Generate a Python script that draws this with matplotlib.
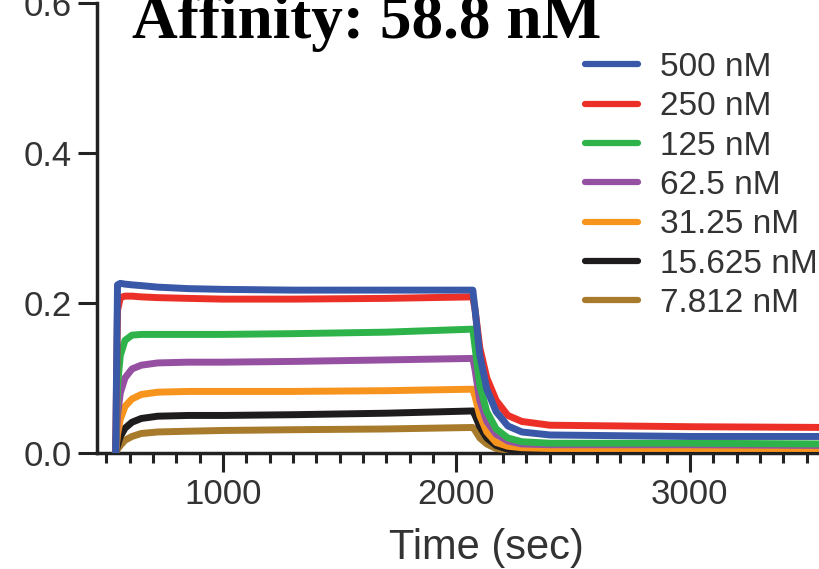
import numpy as np
import matplotlib
matplotlib.use("Agg")
import matplotlib.pyplot as plt
from matplotlib.ticker import MultipleLocator

t = [540, 548, 560, 580, 610, 650, 720, 850, 1000, 1300, 1700, 2070,
     2080, 2100, 2130, 2170, 2220, 2280, 2400, 3000, 3600]

labels = ["500 nM", "250 nM", "125 nM", "62.5 nM", "31.25 nM", "15.625 nM", "7.812 nM"]
colors = ["#3a58a8", "#ec3027", "#2eb34b", "#9550a1", "#f7941e", "#1f1c1d", "#a77a2c"]

r500 = [0, 0.224, 0.226, 0.225, 0.224, 0.223, 0.221, 0.219, 0.218, 0.217, 0.217, 0.217,
        0.19, 0.13, 0.085, 0.055, 0.036, 0.028, 0.024, 0.022, 0.022]
r250 = [0, 0.19, 0.207, 0.209, 0.209, 0.208, 0.207, 0.206, 0.205, 0.205, 0.206, 0.208,
        0.19, 0.14, 0.10, 0.07, 0.05, 0.042, 0.037, 0.035, 0.034]
r125 = [0, 0.09, 0.13, 0.150, 0.157, 0.158, 0.158, 0.158, 0.158, 0.159, 0.161, 0.165,
        0.14, 0.09, 0.055, 0.032, 0.020, 0.015, 0.013, 0.013, 0.012]
r62 = [0, 0.05, 0.08, 0.10, 0.112, 0.117, 0.120, 0.121, 0.121, 0.122, 0.124, 0.126,
       0.11, 0.07, 0.042, 0.025, 0.016, 0.012, 0.011, 0.011, 0.010]
r31 = [0, 0.025, 0.045, 0.062, 0.072, 0.078, 0.081, 0.082, 0.082, 0.082, 0.083, 0.085,
       0.075, 0.05, 0.028, 0.014, 0.009, 0.007, 0.006, 0.006, 0.006]
r15 = [0, 0.01, 0.022, 0.033, 0.041, 0.046, 0.049, 0.050, 0.050, 0.051, 0.053, 0.056,
       0.05, 0.035, 0.02, 0.01, 0.005, 0.003, 0.003, 0.003, 0.003]
r7 = [0, 0.005, 0.010, 0.017, 0.022, 0.026, 0.028, 0.029, 0.030, 0.031, 0.032, 0.034,
      0.03, 0.02, 0.012, 0.006, 0.004, 0.003, 0.003, 0.003, 0.003]
series = [r500, r250, r125, r62, r31, r15, r7]

plt.rcParams['font.family'] = ['Liberation Sans', 'DejaVu Sans']

fig = plt.figure(figsize=(8.19, 5.69), dpi=100)
ax = fig.add_axes([0.1184, 0.2039, 0.952, 0.7914])

for i, (y, c, lab) in enumerate(zip(series, colors, labels)):
    ax.plot(t, y, color=c, lw=5, label=lab, zorder=10 - i,
            solid_capstyle='round', solid_joinstyle='round')

ax.set_xlim(460, 3800)
ax.set_ylim(0, 0.6)
ax.set_yticks([0.0, 0.2, 0.4, 0.6])
ax.set_yticklabels(["0.0", "0.2", "0.4", "0.6"])
ax.xaxis.set_major_locator(MultipleLocator(1000))
ax.xaxis.set_minor_locator(MultipleLocator(100))

for s in ["top", "right"]:
    ax.spines[s].set_visible(False)
for s in ["left", "bottom"]:
    ax.spines[s].set_linewidth(2.5)
    ax.spines[s].set_color("#222222")

ax.tick_params(axis='both', which='major', length=14, width=2.2, color="#222222",
               labelsize=25, labelcolor="#333333", pad=4)
ax.tick_params(axis='x', which='minor', length=7, width=2.2, color="#222222")
ax.set_xlabel("Time (sec)", fontsize=30, color="#333333", labelpad=12)

leg = fig.legend(*ax.get_legend_handles_labels(), loc='upper left',
                 bbox_to_anchor=(585 / 819, 1 - 52 / 569), frameon=False,
                 fontsize=24, handlelength=1.6, handletextpad=0.65, labelspacing=0.25,
                 borderpad=0, borderaxespad=0)
for txt in leg.get_texts():
    txt.set_color("#333333")
for ln in leg.get_lines():
    ln.set_linewidth(4.5)

fig.text(132 / 819, 1 - 38 / 569, "Affinity: 58.8 nM", fontsize=45.5, fontweight='bold',
         family=['Liberation Serif', 'DejaVu Serif'], va='baseline', ha='left')

fig.savefig("out.png", dpi=100)
